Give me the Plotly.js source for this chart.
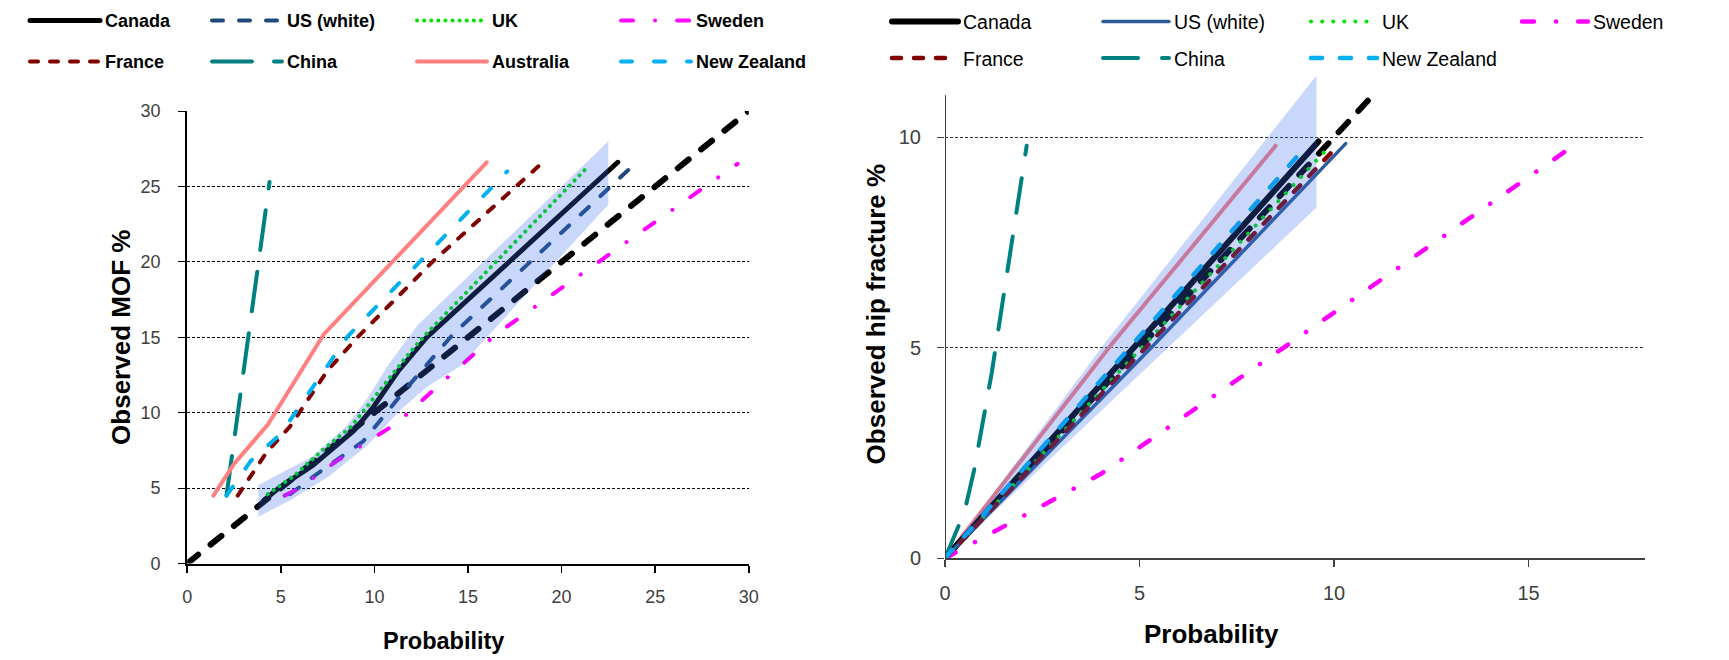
<!DOCTYPE html>
<html>
<head>
<meta charset="utf-8">
<script src="https://cdn.plot.ly/plotly-3.0.1.min.js"></script>
<style>
html, body { margin: 0; padding: 0; background: #ffffff; }
#chart { width: 1729px; height: 660px; }
#chart path.js-line { stroke-linecap: round; }
</style>
</head>
<body>
<div id="chart"></div>
<script>
// ================= LEFT CHART: Observed MOF % vs Probability =================
const mofRefX = [0, 30];
const mofRefY = [0, 30];
const mofCanadaX = [4.1, 5.0, 6.7, 8.9, 9.9, 11.3, 12.8, 17.7, 23.0];
const mofCanadaY = [4.2, 5.1, 6.5, 8.8, 10.3, 12.8, 15.0, 20.6, 26.6];
const mofUSX = [5.5, 7.0, 9.4, 11.7, 14.2, 24.0];
const mofUSY = [4.6, 6.0, 8.1, 11.6, 15.2, 26.6];
const mofUKX = [4.3, 5.7, 7.3, 8.7, 9.6, 10.3, 11.7, 12.6, 16.5, 21.4];
const mofUKY = [4.6, 5.8, 7.6, 9.0, 10.4, 11.5, 13.7, 15.0, 20.0, 26.3];
const mofSwedenX = [5.2, 6.0, 8.0, 11.2, 13.7, 16.5, 29.4];
const mofSwedenY = [4.5, 5.0, 6.8, 9.3, 12.1, 15.2, 26.5];
const mofFranceX = [2.7, 4.2, 5.5, 7.5, 9.1, 13.1, 19.0];
const mofFranceY = [4.5, 7.3, 9.1, 12.8, 15.0, 20.0, 26.6];
const mofChinaX = [2.1, 2.6, 3.0, 4.4];
const mofChinaY = [4.5, 9.0, 13.0, 25.3];
const mofAustraliaX = [1.4, 2.5, 4.3, 7.3, 16.0];
const mofAustraliaY = [4.5, 6.6, 9.2, 15.2, 26.6];
const mofNZX = [2.1, 3.4, 5.0, 8.6, 17.1];
const mofNZY = [4.5, 6.8, 8.6, 15.1, 26.0];
// Canada confidence band (upper and lower edges)
const mofBandUpperX = [3.8, 6.7, 8.5, 9.6, 10.7, 12.3, 22.5];
const mofBandUpperY = [5.2, 7.1, 9.1, 10.9, 13.1, 15.8, 28.0];
const mofBandLowerX = [3.8, 5.5, 7.6, 9.6, 11.4, 12.8, 14.6, 22.5];
const mofBandLowerY = [3.1, 4.2, 5.8, 7.8, 10.2, 11.7, 13.1, 23.8];

// ================= RIGHT CHART: Observed hip fracture % vs Probability =================
const hipRefX = [0, 11];
const hipRefY = [0, 11];
const hipCanadaX = [0, 9.6];
const hipCanadaY = [0, 9.9];
const hipUSX = [0, 5.3, 10.3];
const hipUSY = [0, 5.0, 9.85];
const hipUKX = [0, 9.8];
const hipUKY = [0, 9.7];
const hipSwedenX = [0, 4.0, 8.7, 16.0];
const hipSwedenY = [0, 2.0, 5.0, 9.7];
const hipFranceX = [0, 10.1];
const hipFranceY = [0, 9.8];
const hipChinaX = [0, 0.5, 0.75, 1.2, 2.1];
const hipChinaY = [0, 1.1, 2.1, 4.4, 9.8];
const hipAustraliaX = [0, 4.3, 8.5];
const hipAustraliaY = [0, 5.1, 9.8];
const hipNZX = [0, 9.2];
const hipNZY = [0, 9.7];
const hipBandUpperX = [0, 4.1, 9.55];
const hipBandUpperY = [0, 5.1, 11.47];
const hipBandLowerX = [0, 5.5, 9.55];
const hipBandLowerY = [0, 4.8, 8.33];

// Legend labels, titles and tick values
const countryNames = ['Canada', 'US (white)', 'UK', 'Sweden', 'France', 'China', 'Australia', 'New Zealand'];
const xTitle = 'Probability';
const mofYTitle = 'Observed MOF %';
const hipYTitle = 'Observed hip fracture %';
const mofTicks = [0, 5, 10, 15, 20, 25, 30];
const hipXTicks = [0, 5, 10, 15];
const hipYTicks = [0, 5, 10];

// ================= helpers =================
const FONT = '"Liberation Sans", Arial, Helvetica, sans-serif';
const BAND = 'rgba(51,107,237,0.27)';
// legend column widths (px) for the four columns of each legend row
const leftColW = [97, 120, 119, 110];
const rightColW = [130, 127, 130, 110];

function lineTrace(x, y, name, color, width, dash, xa, ya, legend, colW) {
  const t = {
    type: 'scatter', mode: 'lines', x: x, y: y, name: name,
    xaxis: xa, yaxis: ya, legend: legend || 'legend',
    showlegend: !!legend,
    line: { color: color, width: width, dash: dash, shape: 'linear' },
    hoverinfo: 'skip'
  };
  if (colW) t.legendwidth = colW;
  return t;
}
function bandTrace(ux, uy, lx, ly, xa, ya) {
  return {
    type: 'scatter', mode: 'lines',
    x: ux.concat(lx.slice().reverse()),
    y: uy.concat(ly.slice().reverse()),
    fill: 'toself', fillcolor: BAND,
    line: { width: 0, color: 'rgba(0,0,0,0)' },
    xaxis: xa, yaxis: ya, showlegend: false, hoverinfo: 'skip'
  };
}

const traces = [
  // ---- left ----
  lineTrace(mofRefX, mofRefY, 'reference', '#000000', 6, '14px,16px', 'x', 'y', null),
  lineTrace(mofCanadaX, mofCanadaY, countryNames[0], '#000000', 5, 'solid', 'x', 'y', 'legend', leftColW[0]),
  lineTrace(mofUSX, mofUSY, countryNames[1], '#1F497D', 4, '11px,16px', 'x', 'y', 'legend', leftColW[1]),
  lineTrace(mofUKX, mofUKY, countryNames[2], '#00E400', 4, '0.1px,7px', 'x', 'y', 'legend', leftColW[2]),
  lineTrace(mofSwedenX, mofSwedenY, countryNames[3], '#FF00FF', 4, '12px,22px,0.1px,22px', 'x', 'y', 'legend', leftColW[3]),
  lineTrace(mofFranceX, mofFranceY, countryNames[4], '#800000', 4, '8px,12px', 'x', 'y', 'legend2', leftColW[0]),
  lineTrace(mofChinaX, mofChinaY, countryNames[5], '#008080', 4, '40px,22px', 'x', 'y', 'legend2', leftColW[1]),
  lineTrace(mofAustraliaX, mofAustraliaY, countryNames[6], '#FF8080', 4, 'solid', 'x', 'y', 'legend2', leftColW[2]),
  lineTrace(mofNZX, mofNZY, countryNames[7], '#00B0F0', 4, '11px,22px', 'x', 'y', 'legend2', leftColW[3]),
  bandTrace(mofBandUpperX, mofBandUpperY, mofBandLowerX, mofBandLowerY, 'x', 'y'),
  // ---- right ----
  lineTrace(hipRefX, hipRefY, 'reference', '#000000', 6, '14px,15px', 'x2', 'y2', null),
  lineTrace(hipAustraliaX, hipAustraliaY, countryNames[6], '#FF8080', 4, 'solid', 'x2', 'y2', null),
  lineTrace(hipCanadaX, hipCanadaY, countryNames[0], '#000000', 6, 'solid', 'x2', 'y2', 'legend3', rightColW[0]),
  lineTrace(hipUSX, hipUSY, countryNames[1], '#2E5C9A', 3.5, 'solid', 'x2', 'y2', 'legend3', rightColW[1]),
  lineTrace(hipUKX, hipUKY, countryNames[2], '#00E400', 4, '0.1px,11px', 'x2', 'y2', 'legend3', rightColW[2]),
  lineTrace(hipSwedenX, hipSwedenY, countryNames[3], '#FF00FF', 4.5, '12px,22px,0.1px,22px', 'x2', 'y2', 'legend3', rightColW[3]),
  lineTrace(hipFranceX, hipFranceY, countryNames[4], '#800000', 4.5, '9px,13px', 'x2', 'y2', 'legend4', rightColW[0]),
  lineTrace(hipChinaX, hipChinaY, countryNames[5], '#008080', 4, '35px,24px', 'x2', 'y2', 'legend4', rightColW[1]),
  lineTrace([], [], countryNames[6], '#FF8080', 4, 'solid', 'x2', 'y2', 'legend4', rightColW[2]),
  lineTrace(hipNZX, hipNZY, countryNames[7], '#00B0F0', 4.5, '11px,18px', 'x2', 'y2', 'legend4', rightColW[3]),
  bandTrace(hipBandUpperX, hipBandUpperY, hipBandLowerX, hipBandLowerY, 'x2', 'y2')
];

const W = 1729, H = 660;
function px(v) { return v / W; }
function py(v) { return 1 - v / H; }

function legendCfg(xPix, yPix, itemW, font) {
  return {
    orientation: 'h', x: px(xPix), xanchor: 'left', y: py(yPix), yanchor: 'middle',
    itemwidth: itemW, entrywidthmode: 'pixels',
    font: font, bgcolor: 'rgba(0,0,0,0)', borderwidth: 0,
    traceorder: 'normal', itemclick: false, itemdoubleclick: false
  };
}
const legLeftFont = { family: FONT, size: 18, weight: 'bold', color: '#000000' };
const legRightFont = { family: FONT, size: 19.5, color: '#000000' };

const layout = {
  width: W, height: H,
  margin: { l: 0, r: 0, t: 0, b: 0, autoexpand: false },
  paper_bgcolor: '#ffffff', plot_bgcolor: 'rgba(0,0,0,0)',
  hovermode: false, showlegend: true,
  legend: legendCfg(25, 20.7, 70, legLeftFont),
  legend2: legendCfg(25, 61.7, 70, legLeftFont),
  legend3: legendCfg(887, 21.7, 66, legRightFont),
  legend4: legendCfg(887, 58.3, 66, legRightFont),
  xaxis: {
    domain: [px(187.2), px(748.8)], range: [0, 30], anchor: 'y',
    tickvals: mofTicks, showgrid: false, zeroline: false,
    showline: true, linecolor: '#000000', linewidth: 2,
    ticks: 'outside', ticklen: 7, tickwidth: 1.5, tickcolor: '#000000',
    tickfont: { family: FONT, size: 18, color: '#404040' }, ticklabelstandoff: 9,
    fixedrange: true
  },
  yaxis: {
    domain: [py(563.5), py(111)], range: [0, 30], anchor: 'x',
    tickvals: mofTicks, showgrid: true, gridcolor: '#000000', gridwidth: 1, griddash: '3px,2px',
    zeroline: false, showline: true, linecolor: '#000000', linewidth: 2,
    ticks: 'outside', ticklen: 7, tickwidth: 1, tickcolor: '#000000',
    tickfont: { family: FONT, size: 18, color: '#404040' }, ticklabelstandoff: 14,
    title: { text: mofYTitle, font: { family: FONT, size: 26, weight: 'bold', color: '#000000' }, standoff: 2 },
    fixedrange: true
  },
  xaxis2: {
    domain: [px(945), px(945 + 18 * 38.9)], range: [0, 18], anchor: 'y2',
    tickvals: hipXTicks, showgrid: false, zeroline: false,
    showline: true, linecolor: '#404040', linewidth: 2,
    ticks: 'outside', ticklen: 7, tickwidth: 1.5, tickcolor: '#404040',
    tickfont: { family: FONT, size: 20, color: '#404040' }, ticklabelstandoff: 9,
    fixedrange: true
  },
  yaxis2: {
    domain: [py(558.3), py(558.3 - 11.6 * 42.1)], range: [0, 11.6], anchor: 'x2',
    tickvals: hipYTicks, showgrid: true, gridcolor: '#303030', gridwidth: 1, griddash: '3px,2px',
    zeroline: false, showline: false,
    ticks: 'outside', ticklen: 7, tickwidth: 1, tickcolor: '#404040',
    tickfont: { family: FONT, size: 20, color: '#404040' }, ticklabelstandoff: 12,
    title: { text: hipYTitle, font: { family: FONT, size: 26, weight: 'bold', color: '#000000' }, standoff: 5 },
    fixedrange: true
  },
  shapes: [
    // right chart y-axis line stops at 11
    { type: 'line', xref: 'x2', yref: 'y2', x0: 0, x1: 0, y0: 0, y1: 11,
      line: { color: '#404040', width: 2 }, layer: 'above' }
  ],
  annotations: [
    // x-axis titles (placed off-centre as in the original figure)
    { text: xTitle, xref: 'paper', yref: 'paper', x: px(443), y: py(641),
      xanchor: 'center', yanchor: 'middle', showarrow: false,
      font: { family: FONT, size: 23.5, weight: 'bold', color: '#000000' } },
    { text: xTitle, xref: 'paper', yref: 'paper', x: px(1211), y: py(634),
      xanchor: 'center', yanchor: 'middle', showarrow: false,
      font: { family: FONT, size: 26, weight: 'bold', color: '#000000' } }
  ]
};

Plotly.newPlot('chart', traces, layout, { displayModeBar: false, staticPlot: true });
</script>
</body>
</html>
